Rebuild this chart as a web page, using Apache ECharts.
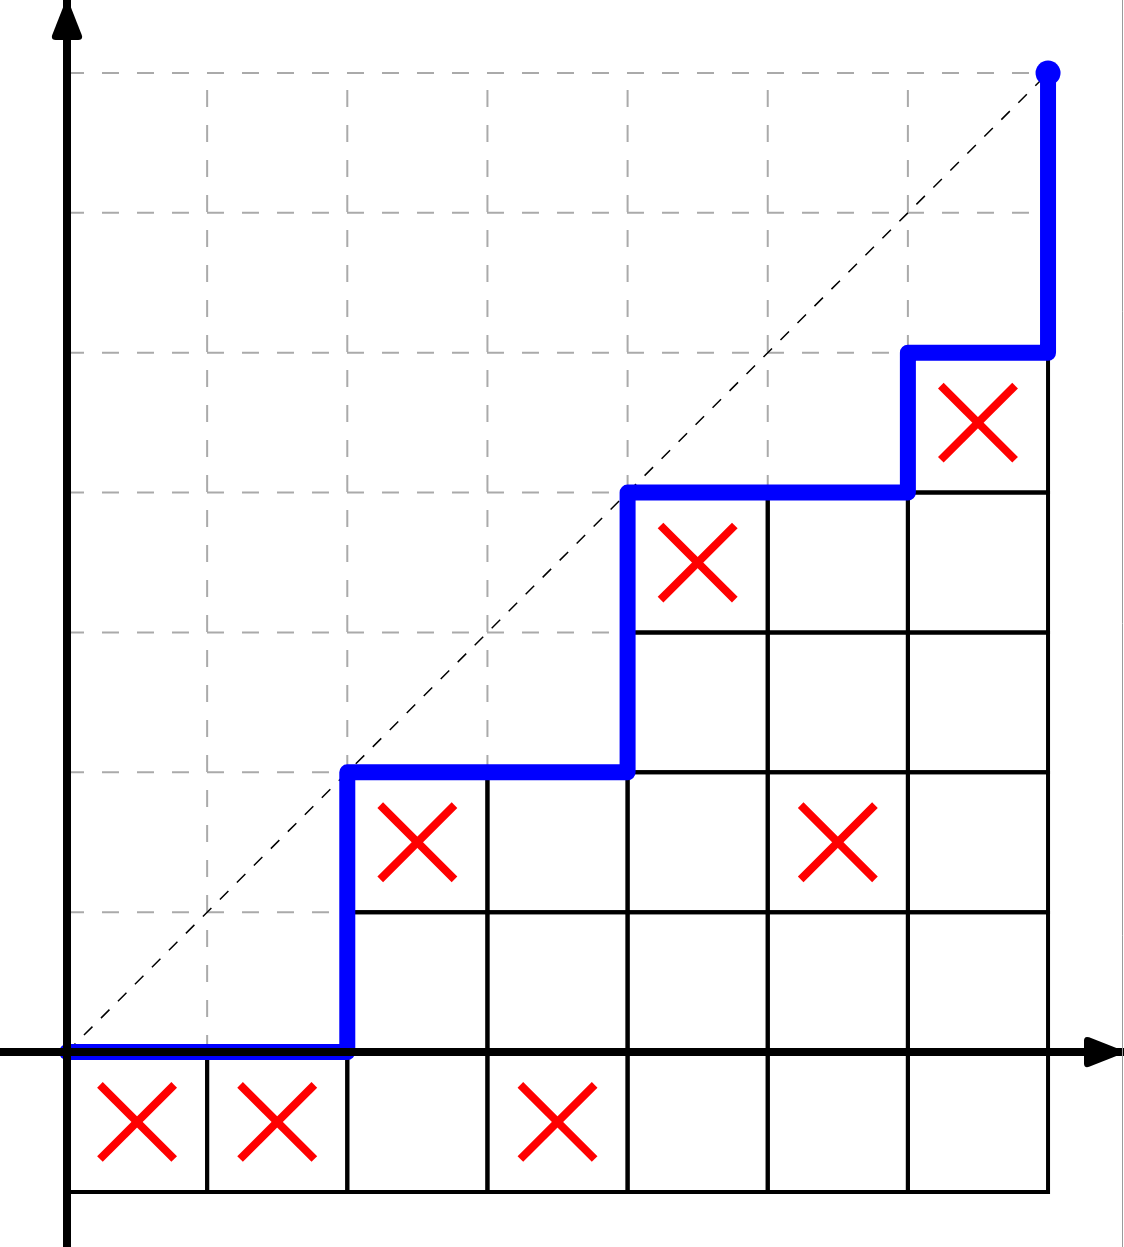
<!DOCTYPE html>
<html>
<head>
<meta charset="utf-8">
<script src="https://cdn.jsdelivr.net/npm/echarts@6/dist/echarts.min.js"></script>
<style>
html,body{margin:0;padding:0;background:#fff;}
#chart{width:1124px;height:1247px;}
</style>
</head>
<body>
<div id="chart"></div>
<script>
// Lattice path (blue staircase)
var pathX = [0, 2, 2, 4, 4, 6, 6, 7, 7];
var pathY = [0, 0, 2, 2, 4, 4, 5, 5, 7];
// Height of the path above each column (cells drawn from y=-1 up to this)
var columnTops = [0, 0, 2, 2, 4, 4, 5];
var cellBottom = -1;
// Red crosses (cell centres)
var crossX = [0.5, 1.5, 3.5, 2.5, 5.5, 4.5, 6.5];
var crossY = [-0.5, -0.5, -0.5, 1.5, 1.5, 3.5, 4.5];
// Dashed guide grid
var gridXs = [1, 2, 3, 4, 5, 6];
var gridYs = [1, 2, 3, 4, 5, 6, 7];
var gridMax = 7;
// Diagonal
var diagX = [0, 7];
var diagY = [0, 7];

var chart = echarts.init(document.getElementById('chart'));

var dashedSegs = [];
gridXs.forEach(function (x) { dashedSegs.push([x, 0, x, gridMax]); });
gridYs.forEach(function (y) { dashedSegs.push([0, y, gridMax, y]); });

var cells = [];
columnTops.forEach(function (top, c) {
  for (var r = cellBottom; r < top; r++) cells.push([c, r]);
});

var crosses = crossX.map(function (x, i) { return [x, crossY[i]]; });
var pathData = pathX.map(function (x, i) { return [x, pathY[i]]; });
var diagData = diagX.map(function (x, i) { return [x, diagY[i]]; });

var arrowPath = 'path://M13.5,2 Q15,-0.5 16.5,2 L29.5,35 Q31,40 26,40 L4,40 Q-1,40 0.5,35 Z';

var option = {
  animation: false,
  grid: { left: 0, right: 0, top: 0, bottom: 0 },
  xAxis: {
    type: 'value', min: -0.478, max: 7.542, z: 10,
    axisLine: { show: true, onZero: true, symbol: ['none', arrowPath], symbolSize: [32, 40], symbolOffset: [0, -20],
      lineStyle: { color: '#000', width: 8 } },
    axisTick: { show: false }, axisLabel: { show: false }, splitLine: { show: false }
  },
  yAxis: {
    type: 'value', min: -1.394, max: 7.522, z: 10,
    axisLine: { show: true, onZero: true, symbol: ['none', arrowPath], symbolSize: [32, 40], symbolOffset: [0, -20],
      lineStyle: { color: '#000', width: 8 } },
    axisTick: { show: false }, axisLabel: { show: false }, splitLine: { show: false }
  },
  graphic: [{
    type: 'line', shape: { x1: 1122.5, y1: 0, x2: 1122.5, y2: 1247 },
    style: { stroke: '#9a9a9a', lineWidth: 1 }, z: 100
  }],
  series: [
    {
      type: 'custom', z: 1,
      data: dashedSegs,
      encode: { x: [0, 2], y: [1, 3] },
      renderItem: function (params, api) {
        var p1 = api.coord([api.value(0), api.value(1)]);
        var p2 = api.coord([api.value(2), api.value(3)]);
        return { type: 'line', shape: { x1: p1[0], y1: p1[1], x2: p2[0], y2: p2[1] },
          style: { stroke: '#aaaaaa', lineWidth: 2, lineDash: [17, 18] } };
      }
    },
    {
      type: 'line', z: 2, data: diagData, symbol: 'none', silent: true,
      lineStyle: { color: '#000', width: 1.5, type: [12, 12] }
    },
    {
      type: 'custom', z: 3,
      data: cells,
      encode: { x: 0, y: 1 },
      renderItem: function (params, api) {
        var a = api.coord([api.value(0), api.value(1) + 1]);
        var b = api.coord([api.value(0) + 1, api.value(1)]);
        return { type: 'rect', shape: { x: a[0], y: a[1], width: b[0] - a[0], height: b[1] - a[1] },
          style: { fill: 'none', stroke: '#000', lineWidth: 4 } };
      }
    },
    {
      type: 'custom', z: 4,
      data: crosses,
      encode: { x: 0, y: 1 },
      renderItem: function (params, api) {
        var c = api.coord([api.value(0), api.value(1)]);
        var s = api.size([0.265, 0.265]);
        var st = { stroke: '#ff0000', lineWidth: 8 };
        return { type: 'group', children: [
          { type: 'line', shape: { x1: c[0] - s[0], y1: c[1] - s[1], x2: c[0] + s[0], y2: c[1] + s[1] }, style: st },
          { type: 'line', shape: { x1: c[0] - s[0], y1: c[1] + s[1], x2: c[0] + s[0], y2: c[1] - s[1] }, style: st }
        ] };
      }
    },
    {
      type: 'line', z: 5, data: pathData, symbol: 'none', silent: true,
      lineStyle: { color: '#0000ff', width: 16, cap: 'round', join: 'round' }
    },
    {
      type: 'scatter', z: 6, data: [pathData[pathData.length - 1]],
      symbol: 'circle', symbolSize: 25, itemStyle: { color: '#0000ff', opacity: 1 }, silent: true
    }
  ]
};
chart.setOption(option);
</script>
</body>
</html>
